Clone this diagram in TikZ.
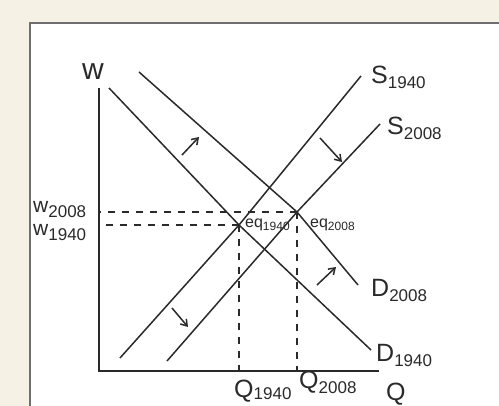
\documentclass[tikz,border=0pt]{standalone}
\usepackage{fontspec}
\setmainfont{Liberation Sans}
\usetikzlibrary{arrows.meta}
\definecolor{cream}{HTML}{F5F1E5}
\definecolor{frame}{HTML}{6E6E6E}
\definecolor{ink}{HTML}{2A2A2A}
\newcommand{\lowsub}[1]{{\fontsize{17}{17}\selectfont\raisebox{-5pt}{#1}}}
\newcommand{\eqsub}[1]{{\fontsize{12}{12}\selectfont\raisebox{-3pt}{#1}}}
\tikzset{
  curve/.style={draw=ink,line width=1.5pt,line join=round},
  axis/.style={draw=ink,line width=1.6pt},
  guide/.style={draw=ink,line width=1.1pt,dash pattern=on 7pt off 7pt},
  shiftarrow/.style={draw=ink,line width=1.5pt,-{Straight Barb[length=6pt,width=8pt]}},
  lbl/.style={inner sep=0pt,text=ink,anchor=base west,font=\fontsize{25}{25}\selectfont},
  small/.style={inner sep=0pt,text=ink,anchor=base west,font=\fontsize{16}{16}\selectfont},
}
\begin{document}
\begin{tikzpicture}[x=1pt,y=-1pt]
\useasboundingbox (0,0) rectangle (499,406);
\fill[cream] (0,0) rectangle (499,406);
\filldraw[fill=white,draw=frame,line width=2pt] (30,23) rectangle (520,430);
% axes
\coordinate (O) at (99,371);
\coordinate (ytop) at (99,88);
\coordinate (xend) at (379,371);
\draw[axis] (ytop) -- (O) -- (xend);
% equilibria
\coordinate (eqA) at (239,225);
\coordinate (eqB) at (297,212);
% curves
\coordinate (d1a) at (109,88);  \coordinate (d1b) at (371,350);
\coordinate (d2a) at (139,72);  \coordinate (d2b) at (358,285);
\coordinate (s1a) at (120,358); \coordinate (s1b) at (361,76);
\coordinate (s2a) at (167,361); \coordinate (s2b) at (380,124);
\draw[curve] (d1a) -- (eqA) -- (d1b);
\draw[curve] (d2a) -- (eqB) -- (d2b);
\draw[curve] (s1a) -- (eqA) -- (s1b);
\draw[curve] (s2a) -- (eqB) -- (s2b);
% guides
\draw[guide] (eqB) -- (eqB -| O);
\draw[guide] (eqA) -- (eqA -| O);
\draw[guide] (eqA) -- (eqA |- O);
\draw[guide] (eqB) -- (eqB |- O);
% shift arrows
\coordinate (a1s) at (182,155); \coordinate (a1e) at (199,137);
\coordinate (a2s) at (320,138); \coordinate (a2e) at (342,162);
\coordinate (a3s) at (172,308); \coordinate (a3e) at (188,327);
\coordinate (a4s) at (317,285); \coordinate (a4e) at (336,267);
\draw[shiftarrow] (a1s) -- (a1e);
\draw[shiftarrow] (a2s) -- (a2e);
\draw[shiftarrow] (a3s) -- (a3e);
\draw[shiftarrow] (a4s) -- (a4e);
% labels
\node[lbl,font=\fontsize{30}{30}\selectfont] (w) at (82,80) {w};
\node[lbl] (S1l) at (371,84) {S\lowsub{1940}};
\node[lbl] (S2l) at (387,135) {S\lowsub{2008}};
\node[lbl] (D2l) at (371,297) {D\lowsub{2008}};
\node[lbl] (D1l) at (376,362) {D\lowsub{1940}};
\node[lbl] (Ql) at (386,401) {Q};
\node[lbl] (Q1l) at (234,398) {Q{\fontsize{17}{17}\selectfont\raisebox{-2pt}{1940}}};
\node[lbl] (Q2l) at (299,389) {Q\lowsub{2008}};
\node[small] (w2l) at (33,213) {\fontsize{21}{21}\selectfont w\lowsub{2008}};
\node[small] (w1l) at (33,236) {\fontsize{21}{21}\selectfont w\lowsub{1940}};
\node[small] (e1l) at (245,228) {eq\eqsub{1940}};
\node[small] (e2l) at (310,228) {eq\eqsub{2008}};
\end{tikzpicture}
\end{document}
